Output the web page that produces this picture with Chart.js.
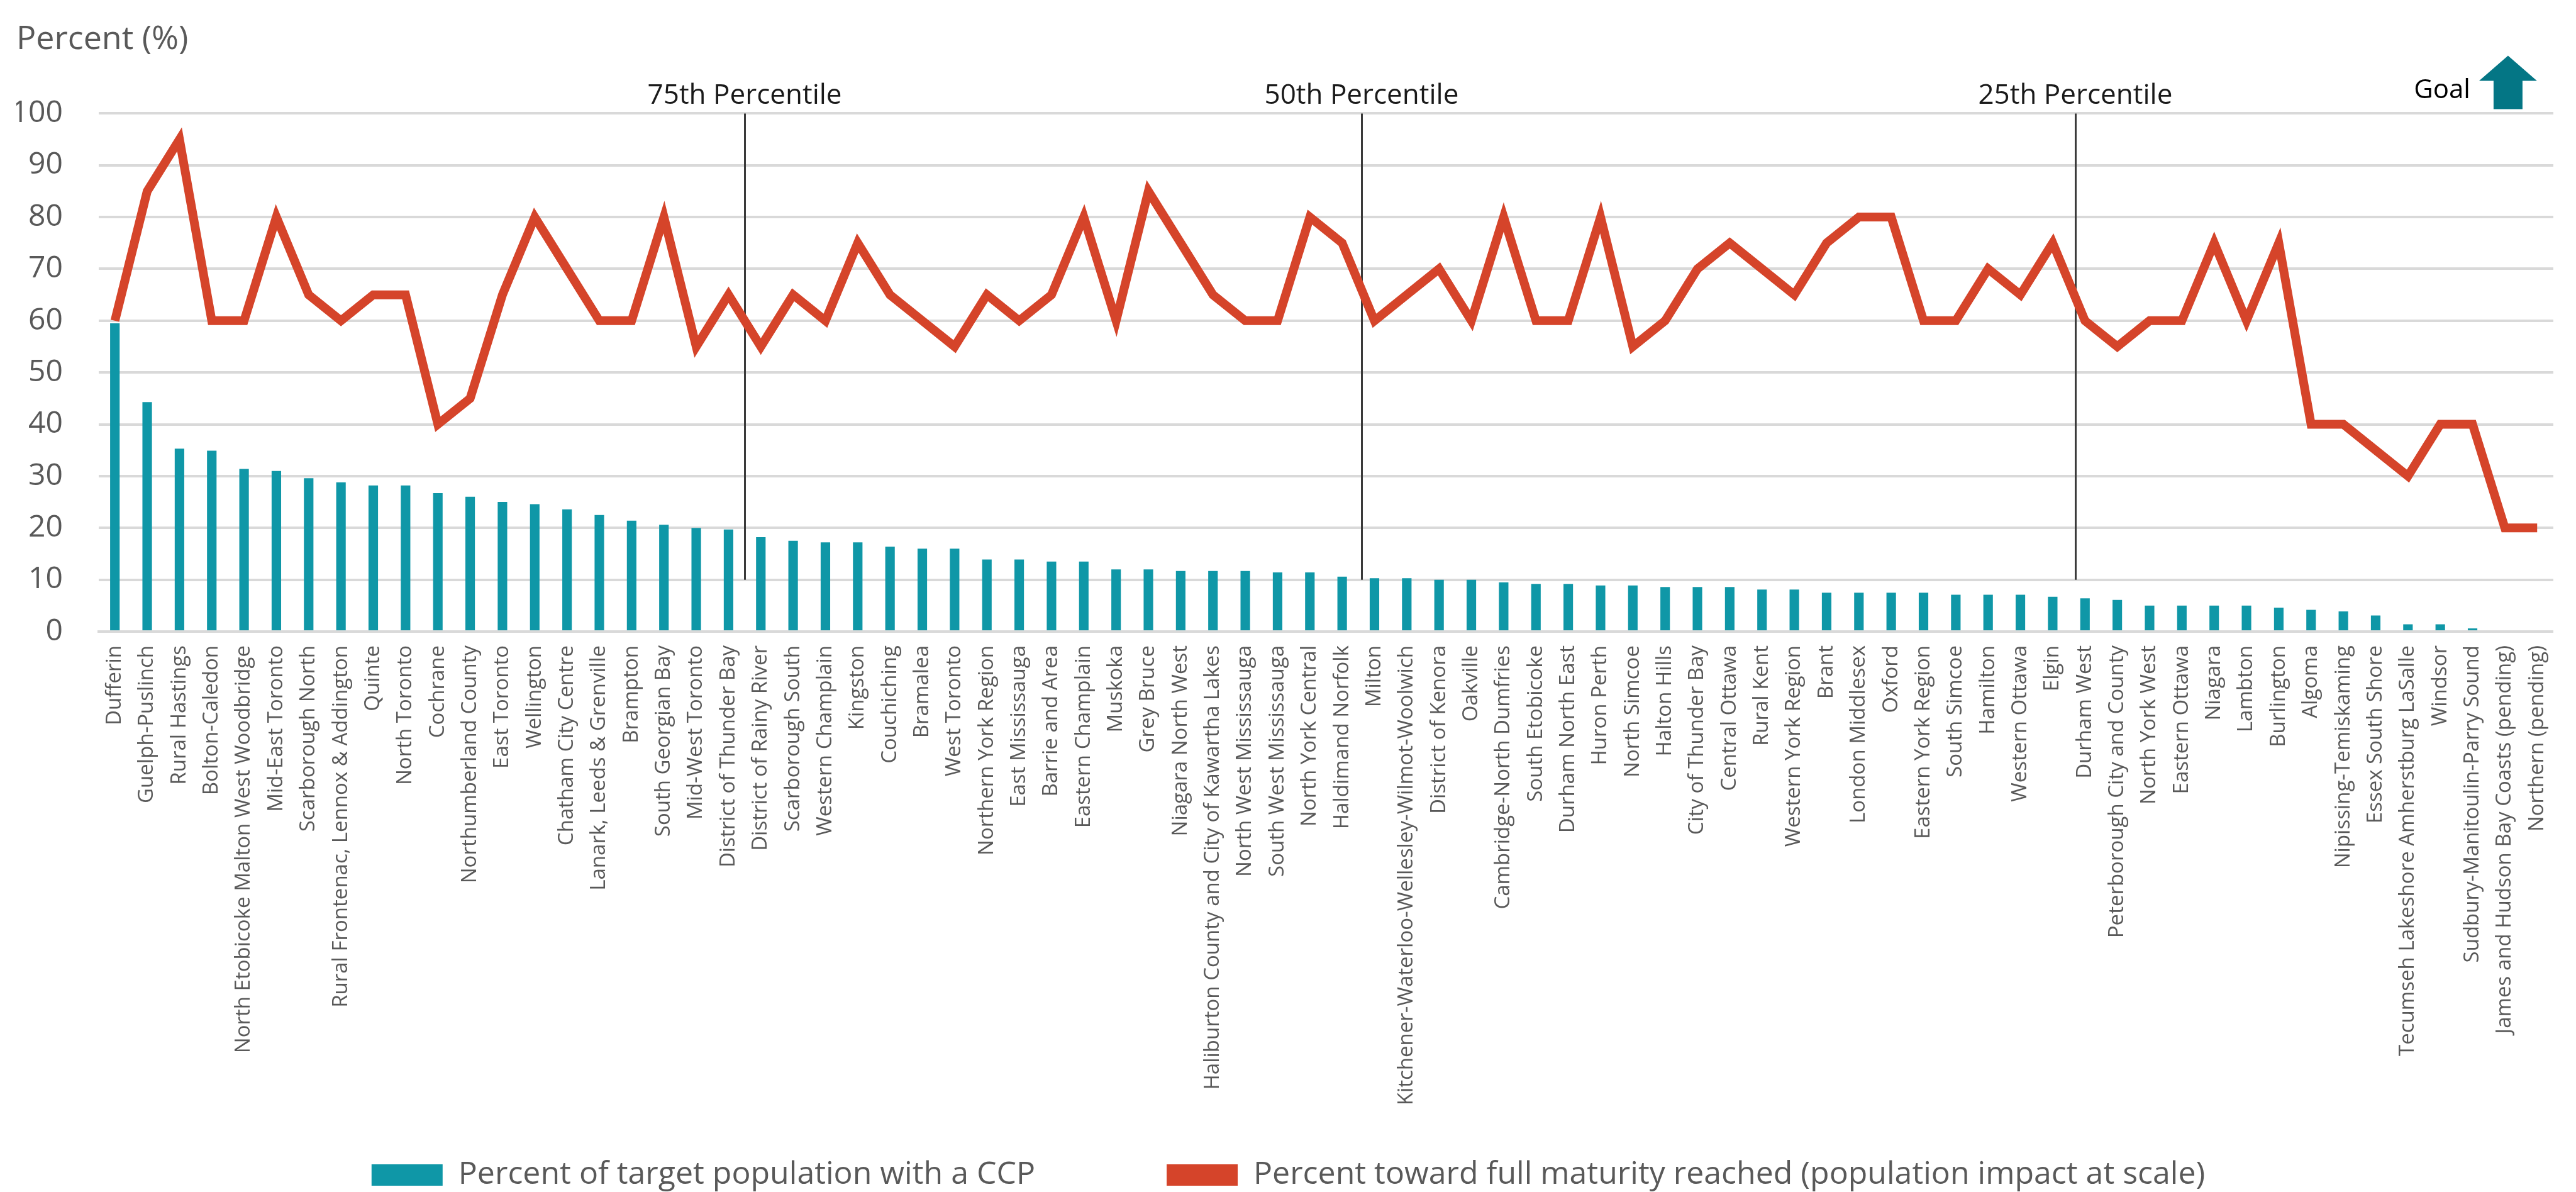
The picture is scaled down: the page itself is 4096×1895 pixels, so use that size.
<!DOCTYPE html>
<html>
<head>
<meta charset="utf-8">
<title>Community care plan coverage and maturity by region</title>
<script src="https://cdn.jsdelivr.net/npm/chart.js@4.4.1/dist/chart.umd.min.js"></script>
<style>
  html, body { margin: 0; padding: 0; background: #ffffff; overflow: hidden; }
  #wrap { position: relative; width: 4096px; height: 1895px; }
</style>
</head>
<body>
<div id="wrap"><canvas id="chart"></canvas></div>
<script>
// Regions, ranked by share of target population with a CCP
const regions = [
  'Dufferin', 'Guelph-Puslinch', 'Rural Hastings', 'Bolton-Caledon',
  'North Etobicoke Malton West Woodbridge', 'Mid-East Toronto', 'Scarborough North',
  'Rural Frontenac, Lennox & Addington', 'Quinte', 'North Toronto', 'Cochrane',
  'Northumberland County', 'East Toronto', 'Wellington', 'Chatham City Centre',
  'Lanark, Leeds & Grenville', 'Brampton', 'South Georgian Bay', 'Mid-West Toronto',
  'District of Thunder Bay', 'District of Rainy River', 'Scarborough South',
  'Western Champlain', 'Kingston', 'Couchiching', 'Bramalea', 'West Toronto',
  'Northern York Region', 'East Mississauga', 'Barrie and Area', 'Eastern Champlain',
  'Muskoka', 'Grey Bruce', 'Niagara North West',
  'Haliburton County and City of Kawartha Lakes', 'North West Mississauga',
  'South West Mississauga', 'North York Central', 'Haldimand Norfolk', 'Milton',
  'Kitchener-Waterloo-Wellesley-Wilmot-Woolwich', 'District of Kenora', 'Oakville',
  'Cambridge-North Dumfries', 'South Etobicoke', 'Durham North East', 'Huron Perth',
  'North Simcoe', 'Halton Hills', 'City of Thunder Bay', 'Central Ottawa', 'Rural Kent',
  'Western York Region', 'Brant', 'London Middlesex', 'Oxford', 'Eastern York Region',
  'South Simcoe', 'Hamilton', 'Western Ottawa', 'Elgin', 'Durham West',
  'Peterborough City and County', 'North York West', 'Eastern Ottawa', 'Niagara',
  'Lambton', 'Burlington', 'Algoma', 'Nipissing-Temiskaming', 'Essex South Shore',
  'Tecumseh Lakeshore Amherstburg LaSalle', 'Windsor', 'Sudbury-Manitoulin-Parry Sound',
  'James and Hudson Bay Coasts (pending)', 'Northern (pending)'
];

// Percent of target population with a CCP
const ccpPercent = [
  59.5, 44.3, 35.3, 34.9, 31.4, 31.0, 29.6, 28.8, 28.2, 28.2,
  26.7, 26.0, 25.0, 24.6, 23.6, 22.5, 21.4, 20.6, 20.0, 19.7,
  18.2, 17.5, 17.2, 17.2, 16.4, 16.0, 16.0, 13.9, 13.9, 13.5,
  13.5, 12.0, 12.0, 11.7, 11.7, 11.7, 11.4, 11.4, 10.6, 10.3,
  10.3, 10.0, 10.0, 9.5, 9.2, 9.2, 8.9, 8.9, 8.6, 8.6,
  8.6, 8.1, 8.1, 7.5, 7.5, 7.5, 7.5, 7.1, 7.1, 7.1,
  6.7, 6.4, 6.1, 5.0, 5.0, 5.0, 5.0, 4.6, 4.2, 3.9,
  3.1, 1.4, 1.4, 0.6, 0, 0
];

// Percent toward full maturity reached (population impact at scale)
const maturityPercent = [
  60, 85, 95, 60, 60, 80, 65, 60, 65, 65,
  40, 45, 65, 80, 70, 60, 60, 80, 55, 65,
  55, 65, 60, 75, 65, 60, 55, 65, 60, 65,
  80, 60, 85, 75, 65, 60, 60, 80, 75, 60,
  65, 70, 60, 80, 60, 60, 80, 55, 60, 70,
  75, 70, 65, 75, 80, 80, 60, 60, 70, 65,
  75, 60, 55, 60, 60, 75, 60, 75, 40, 40,
  35, 30, 40, 40, 20, 20
];

// Percentile markers: position along the ranked regions and the value span of each marker line
const percentileNames = ['75th Percentile', '50th Percentile', '25th Percentile'];
const percentilePositions = [19.5, 38.6, 60.7];
const percentileSpan = [10, 100];

// Y axis range and step
const yMin = 0;
const yMax = 100;
const yStep = 10;

const seriesNames = [
  'Percent of target population with a CCP',
  'Percent toward full maturity reached (population impact at scale)'
];

const FONT = "'Open Sans', 'Noto Sans', sans-serif";
const TEXT_GREY = '#595959';
const TEAL = '#0f97a7';
const RED = '#d5442a';
const GRID = '#d9d9d9';

// Vertical percentile lines with their captions, plus the "Goal" arrow
const annotationsPlugin = {
  id: 'annotations',
  beforeDatasetsDraw(chart) {
    const { ctx, scales: { x, y } } = chart;
    ctx.save();
    ctx.strokeStyle = '#3a3a3a';
    ctx.lineWidth = 3;
    percentilePositions.forEach((pos) => {
      const px = Math.round(x.getPixelForValue(pos)) + 0.5;
      ctx.beginPath();
      ctx.moveTo(px, y.getPixelForValue(percentileSpan[1]));
      ctx.lineTo(px, y.getPixelForValue(percentileSpan[0]));
      ctx.stroke();
    });
    ctx.restore();
  },
  afterDraw(chart) {
    const { ctx, chartArea, scales: { x } } = chart;
    ctx.save();
    ctx.fillStyle = '#1a1a1a';
    ctx.font = `44px ${FONT}`;
    ctx.textAlign = 'center';
    ctx.textBaseline = 'alphabetic';
    percentilePositions.forEach((pos, i) => {
      ctx.fillText(percentileNames[i], x.getPixelForValue(pos), chartArea.top - 15);
    });

    // Goal caption and upward arrow in the top-right corner
    ctx.font = `42px ${FONT}`;
    ctx.textAlign = 'right';
    ctx.fillStyle = '#000000';
    ctx.fillText('Goal', chartArea.right - 132, chartArea.top - 24);

    const cx = chartArea.right - 72;
    const tipY = chartArea.top - 92;
    const baseY = chartArea.top - 52;
    const tailY = chartArea.top - 7;
    ctx.fillStyle = '#047685';
    ctx.beginPath();
    ctx.moveTo(cx, tipY);
    ctx.lineTo(cx + 46, baseY);
    ctx.lineTo(cx + 23, baseY);
    ctx.lineTo(cx + 23, tailY);
    ctx.lineTo(cx - 23, tailY);
    ctx.lineTo(cx - 23, baseY);
    ctx.lineTo(cx - 46, baseY);
    ctx.closePath();
    ctx.fill();
    ctx.restore();
  }
};

new Chart(document.getElementById('chart'), {
  data: {
    labels: regions,
    datasets: [
      {
        type: 'bar',
        label: seriesNames[0],
        data: ccpPercent,
        backgroundColor: TEAL,
        borderWidth: 0,
        categoryPercentage: 1.0,
        barPercentage: 0.295,
        order: 2
      },
      {
        type: 'line',
        label: seriesNames[1],
        data: maturityPercent,
        borderColor: RED,
        backgroundColor: RED,
        borderWidth: 14,
        borderJoinStyle: 'miter',
        borderCapStyle: 'butt',
        tension: 0,
        pointRadius: 0,
        fill: false,
        order: 1
      }
    ]
  },
  options: {
    responsive: true,
    maintainAspectRatio: false,
    animation: false,
    devicePixelRatio: 1,
    layout: { padding: { left: 26, right: 25, top: 0, bottom: -8 } },
    plugins: {
      title: {
        display: true,
        text: 'Percent (%)',
        align: 'start',
        color: TEXT_GREY,
        font: { family: FONT, size: 52, weight: 'normal' },
        padding: { top: 32, bottom: 86 }
      },
      legend: {
        position: 'bottom',
        labels: {
          color: TEXT_GREY,
          font: { family: FONT, size: 50 },
          boxWidth: 113,
          boxHeight: 34,
          padding: 209,
          sort: (a, b) => a.datasetIndex - b.datasetIndex,
          generateLabels(chart) {
            const items = Chart.defaults.plugins.legend.labels.generateLabels(chart);
            items.forEach((item) => { item.lineWidth = 0; });
            return items;
          }
        }
      },
      tooltip: { enabled: false }
    },
    scales: {
      x: {
        type: 'category',
        offset: true,
        grid: { display: false, drawTicks: false },
        border: { display: true, color: GRID, width: 4 },
        ticks: {
          autoSkip: false,
          minRotation: 90,
          maxRotation: 90,
          padding: 22,
          color: TEXT_GREY,
          font: { family: FONT, size: 33 }
        },
        afterFit(scale) {
          scale.height = 630;
          // long region names run below the axis box, so do not clip them to it
          scale._computeLabelArea = () => null;
        }
      },
      y: {
        min: yMin,
        max: yMax,
        grid: { color: GRID, lineWidth: 4, drawTicks: false },
        border: { display: false },
        ticks: {
          stepSize: yStep,
          padding: 57,
          color: TEXT_GREY,
          font: { family: FONT, size: 48 }
        },
        afterFit(scale) { scale.width = 131; }
      }
    }
  },
  plugins: [annotationsPlugin]
});
</script>
</body>
</html>
